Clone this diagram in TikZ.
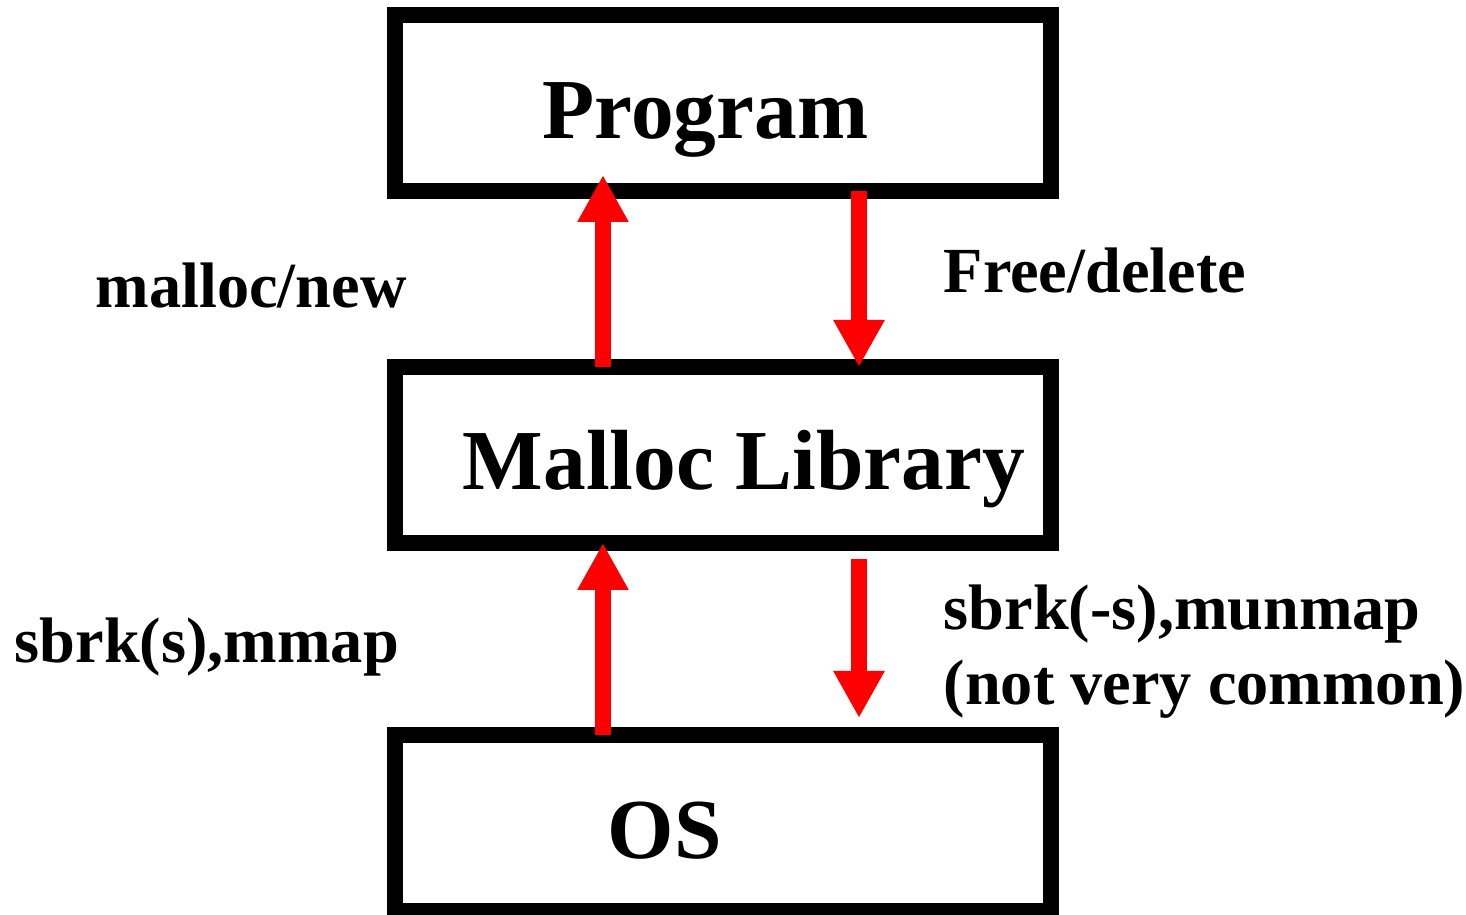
\documentclass[tikz,border=0pt]{standalone}
\usepackage{fontspec}
\setmainfont{Liberation Serif}
\usetikzlibrary{arrows.meta}

\begin{document}
\begin{tikzpicture}[
    layer/.style={draw=black, line width=0.16cm, rectangle, inner sep=0pt,
                  outer sep=0pt, minimum width=6.56cm, minimum height=1.76cm},
    bigtxt/.style={font=\fontsize{24.3pt}{28pt}\selectfont\bfseries,
                   inner sep=0pt, anchor=base west},
    calltxt/.style={font=\fontsize{18.3pt}{21pt}\selectfont\bfseries,
                    inner sep=0pt, anchor=base west},
    callarrow/.style={draw=red, line width=0.16cm,
                      -{Triangle[length=0.47cm, width=0.48cm]}}
  ]
  \useasboundingbox (0,0) rectangle (14.66,9.15);

  % the three layers
  \node[layer] (prog) at (7.23,8.12) {};
  \node[layer] (lib)  at (7.23,4.60) {};
  \node[layer] (os)   at (7.23,0.92) {};

  \node[bigtxt] (progtxt) at (5.42,7.76) {Program};
  \node[bigtxt] (libtxt)  at (4.62,4.25) {Malloc Library};
  \node[bigtxt] (ostxt)   at (6.07,0.56) {OS};

  % columns of the up and down calls
  \coordinate (upx) at (6.03,0);
  \coordinate (dnx) at (8.59,0);

  % program <-> malloc library
  \draw[callarrow] (lib.north -| upx) -- ([yshift=0.16cm]prog.south -| upx);
  \draw[callarrow] (prog.south -| dnx) -- (lib.north -| dnx);

  % malloc library <-> OS
  \draw[callarrow] (os.north -| upx) -- (lib.south -| upx);
  \draw[callarrow] ([yshift=-0.16cm]lib.south -| dnx) -- ([yshift=0.17cm]os.north -| dnx);

  % call labels
  \node[calltxt] (mallocnew) at (0.95,6.07) {malloc/new};
  \node[calltxt] (freedel)   at (9.43,6.22) {Free/delete};
  \node[calltxt] (sbrkup)    at (0.14,2.52) {sbrk(s),mmap};
  \node[calltxt] (sbrkdn)    at (9.43,2.85) {sbrk(-s),munmap};
  \node[calltxt] (rare)      at (9.43,2.10) {(not very common)};
\end{tikzpicture}
\end{document}
